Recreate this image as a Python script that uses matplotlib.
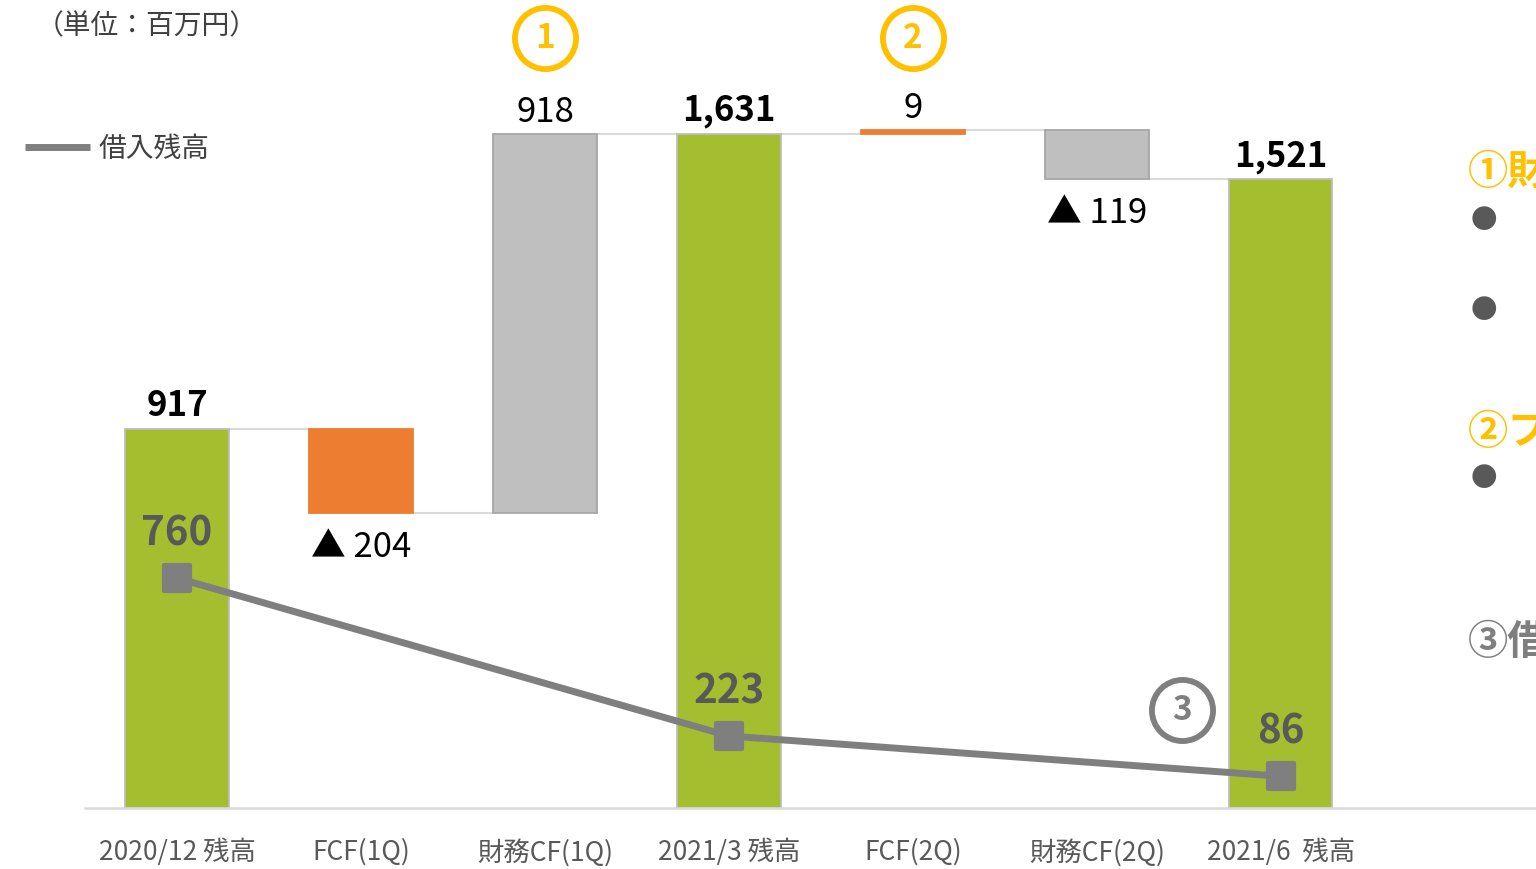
import matplotlib
matplotlib.use('Agg')
import matplotlib.pyplot as plt
import matplotlib.transforms as mtransforms
from matplotlib.markers import MarkerStyle
from matplotlib.lines import Line2D

plt.rcParams['font.family'] = ['Noto Sans CJK JP', 'DejaVu Sans']

# ---------------- data ----------------
categories = ['2020/12 残高', 'FCF(1Q)', '財務CF(1Q)', '2021/3 残高',
              'FCF(2Q)', '財務CF(2Q)', '2021/6  残高']
kinds = ['total', 'fcf', 'fin', 'total', 'fcf', 'fin', 'total']
values = [917, -204, 918, 1631, 9, -119, 1521]

debt_x = [0, 3, 6]
debt_values = [760, 223, 86]
debt_label = '借入残高'
unit_label = '（単位：百万円）'

callout_digits = ['1', '2', '3']
side_headers = ['①財務CF', '②フリーキャッシュフロー', '③借入残高']

# ---------------- style ----------------
W, H = 1536, 869
colors = {'total': '#A5BE30', 'fcf': '#ED7D31', 'fin': '#BFBFBF'}
edges = {'total': '#BDBDBD', 'fcf': '#ED7D31', 'fin': '#A6A6A6'}
bar_w = 0.56
line_color = '#7F7F7F'
yellow = '#FFC000'

fig = plt.figure(figsize=(W / 100, H / 100), dpi=100)
ax = fig.add_axes([85 / W, 61 / H, 1 - 85 / W, 808 / H])
ax.set_xlim(-0.5, 7.386)
ax.set_ylim(0, 1955)

# waterfall geometry
bottoms, heights, levels = [], [], []
running = 0
for k, v in zip(kinds, values):
    if k == 'total':
        b, h = 0, v
        running = v
    else:
        if v >= 0:
            b, h = running, v
        else:
            b, h = running + v, -v
        running += v
    bottoms.append(b)
    heights.append(h)
    levels.append(running)

x = list(range(len(categories)))
for i, k in enumerate(kinds):
    ax.bar(x[i], heights[i], bottom=bottoms[i], width=bar_w,
           color=colors[k], edgecolor=edges[k], linewidth=1.3, zorder=2)

# connectors
for i in range(len(x) - 1):
    ax.plot([x[i] + bar_w / 2, x[i + 1] - bar_w / 2], [levels[i], levels[i]],
            color='#D9D9D9', lw=1.5, zorder=1, solid_capstyle='butt')

# value labels
for i, (k, v) in enumerate(zip(kinds, values)):
    if k == 'total':
        ax.annotate(f'{v:,}', (x[i], bottoms[i] + heights[i]), xytext=(0, 4),
                    textcoords='offset points', ha='center', va='bottom',
                    fontsize=25, fontweight='bold', color='black')
    elif v >= 0:
        ax.annotate(f'{v:,}', (x[i], bottoms[i] + heights[i]), xytext=(0, 3),
                    textcoords='offset points', ha='center', va='bottom',
                    fontsize=25, color='black')
    else:
        ax.annotate(f'▲ {abs(v):,}', (x[i], bottoms[i]), xytext=(0, -12),
                    textcoords='offset points', ha='center', va='top',
                    fontsize=25, color='black')

ax.set_xticks(x)
ax.set_xticklabels(categories, fontsize=19, color='#595959')
ax.tick_params(axis='x', length=0, pad=22)
ax.set_yticks([])
for s in ['left', 'right', 'top']:
    ax.spines[s].set_visible(False)
ax.spines['bottom'].set_color('#D9D9D9')
ax.spines['bottom'].set_linewidth(1.8)

# secondary axis for borrowings line
ax2 = ax.twinx()
ax2.set_ylim(-21.8, 2725)
ax2.set_axis_off()
ax2.plot(debt_x, debt_values, color=line_color, lw=5,
         marker=MarkerStyle('s', joinstyle='round'), ms=19, mew=3,
         mfc=line_color, mec=line_color, zorder=5)
for xi, v in zip(debt_x, debt_values):
    ax2.annotate(f'{v:,}', (xi, v), xytext=(0, 32), textcoords='offset points',
                 ha='center', va='center', fontsize=29, fontweight='bold',
                 color='#595959')

# callout circles
blend = mtransforms.blended_transform_factory(ax.transData, ax.transAxes)
callout_pos = [(2, 1 - 38 / 808, yellow), (4, 1 - 38 / 808, yellow),
               (5.46, 1 - 710 / 808, line_color)]
for d, (cx, cy, c) in zip(callout_digits, callout_pos):
    ax2.plot([cx], [cy], marker='o', ms=44, mfc='white', mec=c, mew=4.2,
             transform=blend, zorder=6, clip_on=False)
    ax2.text(cx, cy, d, transform=blend, ha='center', va='center',
             fontsize=24, fontweight='bold', color=c, zorder=7)

# unit label and legend
fig.text(36 / W, 1 - 26 / H, unit_label, fontsize=20, color='#404040',
         ha='left', va='center')
proxy = Line2D([], [], color=line_color, lw=5, solid_capstyle='butt')
fig.legend([proxy], [debt_label], loc='center left',
           bbox_to_anchor=(25 / W, 1 - 149 / H), frameon=False, fontsize=20,
           handlelength=2.35, handletextpad=0.3, borderpad=0, borderaxespad=0,
           labelcolor='#404040')

# right-hand commentary (cut off at the figure edge, as in the original slide)
hdr_pos = [(172, yellow), (432, yellow), (642, line_color)]
for txt, (yp, c) in zip(side_headers, hdr_pos):
    fig.text(1468 / W, 1 - yp / H, txt, fontsize=29, fontweight='bold',
             color=c, ha='left', va='center')
for yp in [221, 311, 479]:
    fig.text(1471 / W, 1 - yp / H, '●', fontsize=19, color='#595959',
             ha='left', va='center')

fig.savefig('out.png', dpi=100)
